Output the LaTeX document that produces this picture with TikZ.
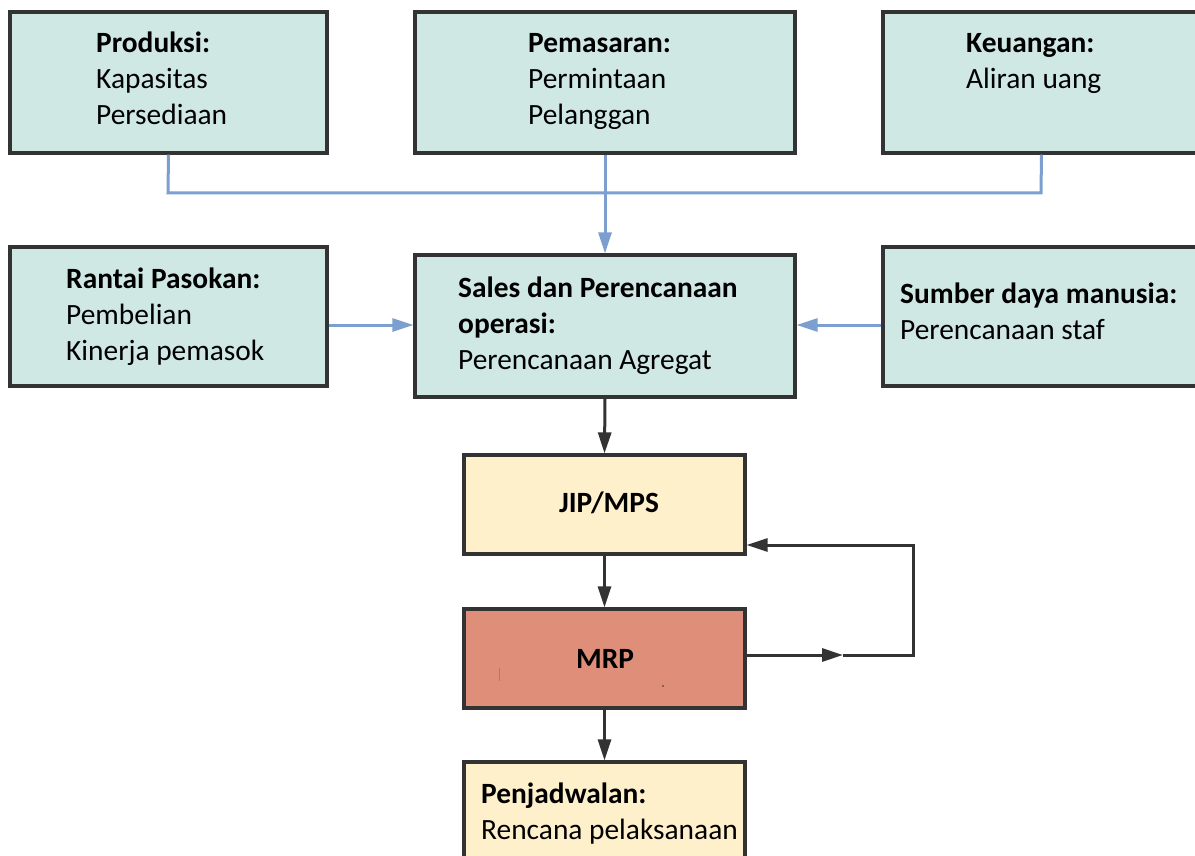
\documentclass[tikz,border=0pt]{standalone}
\usepackage{fontspec}
\setmainfont{Carlito}
\usetikzlibrary{arrows.meta}
\definecolor{tealfill}{HTML}{CFE8E4}
\definecolor{yelfill}{HTML}{FFF0CC}
\definecolor{mrpfill}{HTML}{DF8E79}
\definecolor{bluel}{HTML}{7C9FD0}
\definecolor{edge}{HTML}{333333}
\tikzset{
  box/.style={draw=edge, line width=3.2pt, inner sep=0pt},
  tealbox/.style={box, fill=tealfill},
  yelbox/.style={box, fill=yelfill},
  lbl/.style={anchor=base west, inner sep=0pt, font=\fontsize{29.4}{36}\selectfont},
  clbl/.style={anchor=base, inner sep=0pt, font=\fontsize{29.4}{36}\selectfont\bfseries},
  bconn/.style={draw=bluel, line width=3pt},
  barrow/.style={bconn, -{Triangle[length=21pt,width=13pt]}},
  kconn/.style={draw=edge, line width=3pt},
  karrow/.style={kconn, -{Triangle[length=21pt,width=13pt]}}
}
\begin{document}
\begin{tikzpicture}[x=1pt,y=-1pt]
\useasboundingbox[fill=white] (0,0) rectangle (1195,856);
% boxes
\node[tealbox, minimum width=317pt, minimum height=141pt] (prod) at (168.5,82.5) {};
\node[tealbox, minimum width=380pt, minimum height=141pt] (pem) at (605,82.5) {};
\node[tealbox, minimum width=317pt, minimum height=141pt] (keu) at (1041.5,82.5) {};
\node[tealbox, minimum width=317pt, minimum height=139pt] (rant) at (168.5,316.5) {};
\node[tealbox, minimum width=380pt, minimum height=142pt] (sop) at (605,326) {};
\node[tealbox, minimum width=317pt, minimum height=139pt] (sdm) at (1041.5,316.5) {};
\node[yelbox, minimum width=281pt, minimum height=99pt] (jip) at (604.5,504.5) {};
\node[box, fill=mrpfill, minimum width=281pt, minimum height=99pt] (mrp) at (604.5,658.5) {};
\node[yelbox, minimum width=281pt, minimum height=100pt] (pen) at (604.5,812) {};
% texts
\node[lbl] (t1a) at (96,53) {\bfseries Produksi:};
\node[lbl] (t1b) at (96,89) {Kapasitas};
\node[lbl] (t1c) at (96,125) {Persediaan};
\node[lbl] (t2a) at (528,53) {\bfseries Pemasaran:};
\node[lbl] (t2b) at (528,89) {Permintaan};
\node[lbl] (t2c) at (528,125) {Pelanggan};
\node[lbl] (t3a) at (966,53) {\bfseries Keuangan:};
\node[lbl] (t3b) at (966,89) {Aliran uang};
\node[lbl] (t4a) at (66,288) {\bfseries Rantai Pasokan:};
\node[lbl] (t4b) at (66,324) {Pembelian};
\node[lbl] (t4c) at (66,360) {Kinerja pemasok};
\node[lbl] (t5a) at (458,297) {\bfseries Sales dan Perencanaan};
\node[lbl] (t5b) at (458,333) {\bfseries operasi:};
\node[lbl] (t5c) at (458,369) {Perencanaan Agregat};
\node[lbl] (t6a) at (900,303) {\bfseries Sumber daya manusia:};
\node[lbl] (t6b) at (900,339) {Perencanaan staf};
\node[clbl] (t7) at (609,512) {JIP/MPS};
\node[clbl] (t8) at (605,668) {MRP};
\node[lbl] (t9a) at (481,803) {\bfseries Penjadwalan:};
\node[lbl] (t9b) at (481,839) {Rencana pelaksanaan};
% tiny marks in MRP box
\draw[orange!80!red, line width=0.8pt] (499,668) -- (499,681);
\fill[edge] (663,686) circle (0.9pt);
% blue connectors
\coordinate (busL) at (168,193);
\coordinate (busR) at (1041,193);
\draw[bconn] (prod.south) -- (busL) -- (busR) -- (keu.south);
\draw[barrow] (pem.south) -- (sop.north);
\draw[barrow] (rant.east |- 0,325) -- (sop.west |- 0,325);
\draw[barrow] (sdm.west |- 0,325) -- (sop.east |- 0,325);
% black connectors
\draw[karrow] (sop.south) -- (jip.north);
\draw[karrow] (jip.south) -- (mrp.north);
\draw[karrow] (mrp.south) -- (pen.north);
\coordinate (mid) at (843,655);
\coordinate (loopB) at (913,655);
\coordinate (loopT) at (913,545);
\draw[karrow] (mrp.east |- mid) -- (mid);
\draw[karrow] (mid) -- (loopB) -- (loopT) -- (jip.east |- loopT);
\end{tikzpicture}
\end{document}
